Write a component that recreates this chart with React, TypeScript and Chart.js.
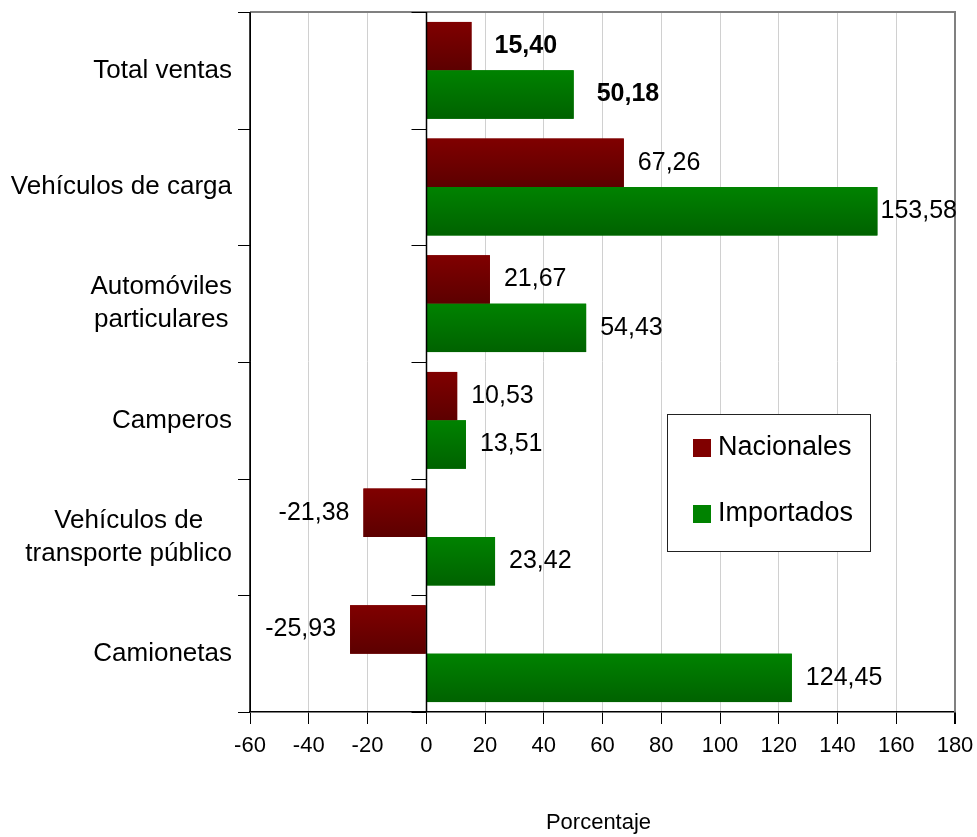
import React, { useEffect, useRef } from "react";
import { Chart, registerables } from "chart.js";

Chart.register(...registerables);

const CATEGORIES: string[][] = [
  ["Total ventas"],
  ["Vehículos de carga"],
  ["Automóviles", "particulares"],
  ["Camperos"],
  ["Vehículos de", "transporte público"],
  ["Camionetas"],
];
const NACIONALES = [15.4, 67.26, 21.67, 10.53, -21.38, -25.93];
const IMPORTADOS = [50.18, 153.58, 54.43, 13.51, 23.42, 124.45];
const SERIES_NAMES = ["Nacionales", "Importados"];
const X_MIN = -60;
const X_MAX = 180;
const X_STEP = 20;
const AXIS_TITLE = "Porcentaje";

const FONT = "'Liberation Sans', Arial, sans-serif";
const COLORS = [
  { solid: "#7a0000", top: "#800000", bottom: "#5c0000" },
  { solid: "#007800", top: "#008200", bottom: "#006200" },
];

const fmt = (v: number) => v.toFixed(2).replace(".", ",");

const decorPlugin = {
  id: "decor",
  beforeDatasetsDraw(chart: any) {
    const { ctx, chartArea } = chart;
    ctx.save();
    ctx.strokeStyle = "#808080";
    ctx.lineWidth = 2;
    ctx.beginPath();
    ctx.moveTo(chartArea.left, chartArea.top);
    ctx.lineTo(chartArea.right, chartArea.top);
    ctx.lineTo(chartArea.right, chartArea.bottom);
    ctx.stroke();
    ctx.restore();
  },
  afterDatasetsDraw(chart: any) {
    const { ctx, chartArea, scales } = chart;
    const xs = scales.x;
    const ys = scales.y;
    ctx.save();
    chart.data.datasets.forEach((ds: any, di: number) => {
      const meta = chart.getDatasetMeta(di);
      meta.data.forEach((el: any) => {
        const p = el.getProps(["x", "y", "base", "height"], true);
        const left = Math.min(p.x, p.base);
        const w = Math.abs(p.x - p.base);
        const top = p.y - p.height / 2;
        const g = ctx.createLinearGradient(0, top, 0, top + p.height);
        g.addColorStop(0, COLORS[di].top);
        g.addColorStop(1, COLORS[di].bottom);
        ctx.fillStyle = g;
        ctx.fillRect(left, top, w, p.height);
      });
    });
    const x0 = Math.round(xs.getPixelForValue(0)) + 0.5;
    ctx.strokeStyle = "#000";
    ctx.lineWidth = 1.5;
    ctx.beginPath();
    ctx.moveTo(x0, chartArea.top);
    ctx.lineTo(x0, chartArea.bottom);
    ctx.moveTo(chartArea.left, chartArea.top);
    ctx.lineTo(chartArea.left, chartArea.bottom);
    ctx.stroke();
    ctx.lineWidth = 1;
    ctx.beginPath();
    for (let i = 0; i <= CATEGORIES.length; i++) {
      const yy = Math.round(ys.getPixelForValue(i - 0.5)) + 0.5;
      ctx.moveTo(chartArea.left - 12, yy);
      ctx.lineTo(chartArea.left, yy);
      ctx.moveTo(x0 - 15, yy);
      ctx.lineTo(x0, yy);
    }
    ctx.stroke();
    ctx.fillStyle = "#000";
    ctx.textBaseline = "middle";
    chart.data.datasets.forEach((ds: any, di: number) => {
      const meta = chart.getDatasetMeta(di);
      meta.data.forEach((el: any, i: number) => {
        const v = ds.data[i];
        const p = el.getProps(["x", "y"], true);
        const bold = i === 0;
        ctx.font = `${bold ? "bold " : ""}25px ${FONT}`;
        const txt = fmt(v);
        const off = bold ? 23 : 14;
        if (v >= 0) {
          const w = ctx.measureText(txt).width;
          let tx = p.x + off;
          if (tx + w > chartArea.right + 2) tx = chartArea.right + 2 - w;
          ctx.textAlign = "left";
          ctx.fillText(txt, tx, p.y);
        } else {
          ctx.textAlign = "right";
          ctx.fillText(txt, p.x - off, p.y);
        }
      });
    });
    ctx.restore();
  },
  afterDraw(chart: any) {
    const { ctx, chartArea, scales } = chart;
    const ys = scales.y;
    ctx.save();
    ctx.fillStyle = "#000";
    ctx.font = `26px ${FONT}`;
    ctx.textBaseline = "middle";
    ctx.textAlign = "center";
    const lh = 33;
    CATEGORIES.forEach((lines, i) => {
      const cy = ys.getPixelForValue(i);
      const maxW = Math.max(...lines.map((l) => ctx.measureText(l).width));
      const cx = chartArea.left - 18 - maxW / 2;
      lines.forEach((l, j) => {
        ctx.fillText(l, cx, cy + (j - (lines.length - 1) / 2) * lh);
      });
    });
    ctx.font = `22px ${FONT}`;
    ctx.fillText(AXIS_TITLE, (chartArea.left + chartArea.right) / 2 - 4, 823);
    const lx = 667.5, ly = 414.5, lw = 203, lhh = 137;
    ctx.fillStyle = "#fff";
    ctx.fillRect(lx, ly, lw, lhh);
    ctx.strokeStyle = "#222";
    ctx.lineWidth = 1;
    ctx.strokeRect(lx, ly, lw, lhh);
    const rows = [448, 514];
    ctx.font = `27px ${FONT}`;
    ctx.textAlign = "left";
    SERIES_NAMES.forEach((name, k) => {
      ctx.fillStyle = COLORS[k].top;
      ctx.fillRect(693, rows[k] - 9, 18, 18);
      ctx.fillStyle = "#000";
      ctx.fillText(name, 718, rows[k]);
    });
    ctx.restore();
  },
};

export default function App() {
  const ref = useRef<HTMLCanvasElement>(null);
  useEffect(() => {
    if (!ref.current) return;
    const chart = new Chart(ref.current, {
      type: "bar",
      data: {
        labels: CATEGORIES as any,
        datasets: [
          {
            label: SERIES_NAMES[0],
            data: NACIONALES,
            backgroundColor: COLORS[0].solid,
            categoryPercentage: 0.83,
            barPercentage: 1,
          },
          {
            label: SERIES_NAMES[1],
            data: IMPORTADOS,
            backgroundColor: COLORS[1].solid,
            categoryPercentage: 0.83,
            barPercentage: 1,
          },
        ],
      },
      options: {
        indexAxis: "y",
        animation: false,
        responsive: true,
        maintainAspectRatio: false,
        layout: { padding: { top: 12, right: 22, bottom: 0, left: 0 } },
        plugins: {
          legend: { display: false },
          tooltip: { enabled: false },
          title: { display: false },
        },
        scales: {
          x: {
            type: "linear",
            min: X_MIN,
            max: X_MAX,
            ticks: {
              stepSize: X_STEP,
              color: "#000",
              font: { family: FONT, size: 22 },
              padding: 9,
              callback: (v: any) => String(v),
            },
            grid: {
              color: (c: any) => {
                const v = c.tick && c.tick.value;
                if (v === 0 || v === X_MIN) return "#000";
                if (v === X_MAX) return "#808080";
                return "#d0d0d0";
              },
              lineWidth: (c: any) => {
                const v = c.tick && c.tick.value;
                if (v === X_MAX) return 2;
                return 1;
              },
              tickColor: "#000",
              tickLength: 12,
              drawTicks: true,
            },
            border: { display: true, color: "#000", width: 1.5 },
            afterFit: (s: any) => {
              s.height = 125;
              s.paddingLeft = 0;
              s.paddingRight = 0;
            },
          },
          y: {
            type: "category",
            offset: true,
            ticks: { display: false },
            grid: { display: false },
            border: { display: false },
            afterFit: (s: any) => {
              s.width = 250;
            },
          },
        },
      },
      plugins: [decorPlugin],
    });
    return () => chart.destroy();
  }, []);
  return (
    <div style={{ position: "fixed", left: 0, top: 0, width: 977, height: 837, background: "#fff" }}>
      <canvas ref={ref} />
    </div>
  );
}
